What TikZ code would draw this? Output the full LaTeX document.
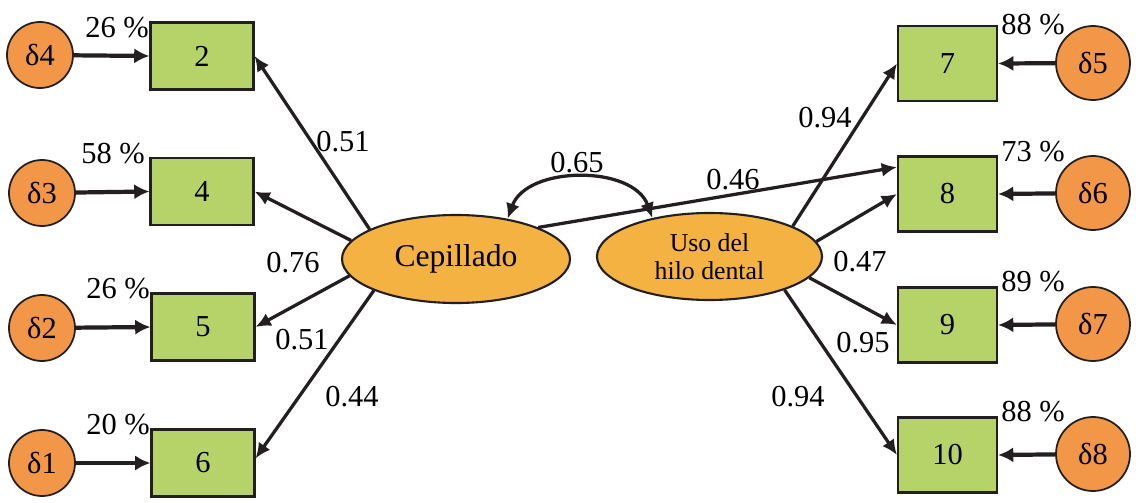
\documentclass[tikz,border=0pt]{standalone}
\usepackage{fontspec}
\setmainfont{Liberation Serif}
\newfontfamily\tnr{Liberation Serif}
\usetikzlibrary{arrows.meta,shapes.geometric}
\definecolor{boxgreen}{RGB}{181,211,104}
\definecolor{errorange}{RGB}{242,150,72}
\definecolor{latorange}{RGB}{244,178,66}
\definecolor{linegray}{RGB}{35,31,32}
\tikzset{
  lbox/.style={draw=linegray,line width=1.8pt,fill=boxgreen,minimum width=3.09cm,minimum height=2.01cm,inner sep=0pt,font=\tnr\fontsize{26}{30}\selectfont},
  rbox/.style={draw=linegray,line width=1.8pt,fill=boxgreen,minimum width=2.97cm,minimum height=2.25cm,inner sep=0pt,font=\tnr\fontsize{26}{30}\selectfont},
  lerr/.style={circle,draw=linegray,line width=1.5pt,fill=errorange,minimum size=1.98cm,inner sep=0pt,font=\tnr\fontsize{26}{30}\selectfont},
  rerr/.style={circle,draw=linegray,line width=1.5pt,fill=errorange,minimum size=2.22cm,inner sep=0pt,font=\tnr\fontsize{26}{30}\selectfont},
  latent/.style={ellipse,draw=linegray,line width=1.8pt,fill=latorange,inner sep=0pt},
  lbl/.style={inner sep=0pt,font=\tnr\fontsize{26}{30}\selectfont},
  errarrow/.style={draw=linegray,line width=3.6pt,-{Latex[length=13pt,width=13pt]}},
  patharrow/.style={draw=linegray,line width=2.8pt,-{Latex[length=13pt,width=12pt]}},
}
\begin{document}
\begin{tikzpicture}[x=0.03cm,y=-0.03cm]
\useasboundingbox (0,0) rectangle (1136,503);
% left boxes
\node[lbox] (b2) at (202,56) {2};
\node[lbox] (b4) at (202,191.5) {4};
\node[lbox] (b5) at (203,327) {5};
\node[lbox] (b6) at (203,463) {6};
% right boxes
\node[rbox] (b7) at (947.5,63.5) {7};
\node[rbox] (b8) at (947.5,194) {8};
\node[rbox] (b9) at (947.5,325) {9};
\node[rbox] (b10) at (947.5,455) {10};
% error circles
\node[lerr] (d4) at (40,55) {δ4};
\node[lerr] (d3) at (42,193) {δ3};
\node[lerr] (d2) at (42,328) {δ2};
\node[lerr] (d1) at (42,463) {δ1};
\node[rerr] (d5) at (1093,63) {δ5};
\node[rerr] (d6) at (1093,193) {δ6};
\node[rerr] (d7) at (1093,324) {δ7};
\node[rerr] (d8) at (1093,454) {δ8};
% latent variables
\node[latent,minimum width=6.84cm,minimum height=2.64cm,font=\tnr\fontsize{27}{30}\selectfont] (cep) at (456,259) {Cepillado};
\node[latent,minimum width=6.75cm,minimum height=2.61cm,font=\tnr\fontsize{22}{24}\selectfont,align=center] (uso) at (709.5,256.5) {Uso del\\hilo dental};
% error arrows
\draw[errarrow] (d4) -- (b2.west);
\draw[errarrow] (d3) -- (b4.west);
\draw[errarrow] (d2) -- (b5.west);
\draw[errarrow] (d1) -- (b6.west);
\draw[errarrow] (d5) -- (b7.east);
\draw[errarrow] (d6) -- (b8.east);
\draw[errarrow] (d7) -- (b9.east);
\draw[errarrow] (d8) -- (b10.east);
% loadings
\draw[patharrow] (cep.161.4) -- (b2.east);
\draw[patharrow] (cep.170.5) -- (b4.east);
\draw[patharrow] (cep.189.2) -- (b5.east);
\draw[patharrow] (cep.201.6) -- (b6.5);
\draw[patharrow] (cep.21.3) -- (b8.152);
\draw[patharrow] (uso.20.5) -- (b7.west);
\draw[patharrow] (uso.8.4) -- (b8.west);
\draw[patharrow] (uso.348.6) -- (b9.west);
\draw[patharrow] (uso.336) -- (b10.west);
% covariance
\draw[draw=linegray,line width=2.8pt,{Latex[length=13pt,width=12pt]}-{Latex[length=13pt,width=12pt]}] (cep.38) to[out=70,in=110] (uso.146.7);
% labels
\node[lbl] (p2) at (117,28) {26 \%};
\node[lbl] (p4) at (113,154) {58 \%};
\node[lbl] (p5) at (118,289) {26 \%};
\node[lbl] (p6) at (118,425) {20 \%};
\node[lbl] (p7) at (1033,25) {88 \%};
\node[lbl] (p8) at (1033,152) {73 \%};
\node[lbl] (p9) at (1033,282) {89 \%};
\node[lbl] (p10) at (1033,412) {88 \%};
\node[lbl] (l2) at (343,142) {0.51};
\node[lbl] (l4) at (293,263) {0.76};
\node[lbl] (l5) at (302,340) {0.51};
\node[lbl] (l6) at (352,397) {0.44};
\node[lbl] (l7) at (825,118) {0.94};
\node[lbl] (l8) at (860,262) {0.47};
\node[lbl] (l9) at (863,343) {0.95};
\node[lbl] (l10) at (798,397) {0.94};
\node[lbl] (l46) at (733,180) {0.46};
\node[lbl] (l65) at (577,163) {0.65};
\end{tikzpicture}
\end{document}
